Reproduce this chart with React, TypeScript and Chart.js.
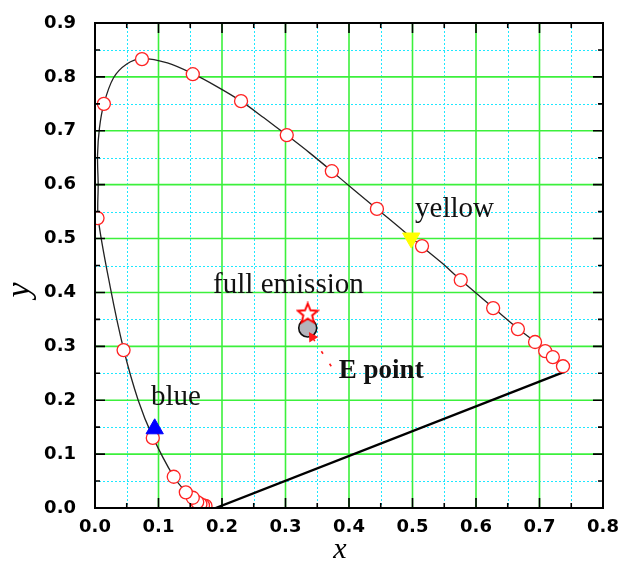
import React, { useEffect, useRef } from "react";
import { Chart, registerables } from "chart.js";

Chart.register(...registerables);

// Spectral locus (thin black curve)
const locusX = [0.174, 0.171, 0.167, 0.162, 0.155, 0.143, 0.124, 0.091, 0.068, 0.045, 0.024, 0.005, 0.005, 0.004, 0.007, 0.014, 0.029, 0.050, 0.074, 0.114, 0.154, 0.192, 0.230, 0.266, 0.302, 0.338, 0.373, 0.408, 0.444, 0.479, 0.514, 0.546, 0.576, 0.627, 0.666, 0.693, 0.709, 0.721, 0.729, 0.737];
const locusY = [0.005, 0.005, 0.007, 0.011, 0.018, 0.030, 0.058, 0.132, 0.200, 0.295, 0.410, 0.538, 0.600, 0.655, 0.705, 0.750, 0.798, 0.824, 0.834, 0.826, 0.806, 0.782, 0.755, 0.724, 0.692, 0.659, 0.625, 0.590, 0.555, 0.521, 0.486, 0.455, 0.423, 0.372, 0.333, 0.308, 0.291, 0.280, 0.272, 0.264];

// Purple boundary line
const purpleX = [0.19, 0.74];
const purpleY = [0.0, 0.253];

// Red open circles (wavelength markers)
const circleX = [0.174, 0.170, 0.166, 0.161, 0.154, 0.143, 0.124, 0.091, 0.045, 0.004, 0.014, 0.074, 0.154, 0.230, 0.302, 0.373, 0.444, 0.515, 0.576, 0.627, 0.666, 0.693, 0.709, 0.721, 0.737];
const circleY = [0.004, 0.005, 0.007, 0.011, 0.019, 0.029, 0.058, 0.130, 0.293, 0.538, 0.750, 0.833, 0.805, 0.755, 0.692, 0.625, 0.555, 0.486, 0.423, 0.371, 0.332, 0.308, 0.291, 0.280, 0.263];

// Special points
const yellowPt = { x: 0.498, y: 0.501 };
const bluePt = { x: 0.094, y: 0.147 };
const fullEmissionPt = { x: 0.335, y: 0.361 };
const ePt = { x: 0.335, y: 0.334 };
const arrowX = [0.372, 0.342];
const arrowY = [0.263, 0.317];

// Ticks
const xTicks = [0, 0.1, 0.2, 0.3, 0.4, 0.5, 0.6, 0.7, 0.8];
const yTicks = [0, 0.1, 0.2, 0.3, 0.4, 0.5, 0.6, 0.7, 0.8, 0.9];
const xMinor = [0.05, 0.15, 0.25, 0.35, 0.45, 0.55, 0.65, 0.75];
const yMinor = [0.05, 0.15, 0.25, 0.35, 0.45, 0.55, 0.65, 0.75, 0.85];

// Text annotations (anchor = left/baseline, in data units)
const noteTexts = ["yellow", "full emission", "blue", "E point"];
const noteX = [0.504, 0.186, 0.088, 0.384];
const noteY = [0.540, 0.399, 0.191, 0.241];
const noteBold = [false, false, false, true];

function makeStar(): HTMLCanvasElement {
  const c = document.createElement("canvas");
  c.width = 24;
  c.height = 24;
  const g = c.getContext("2d")!;
  const cx = 12, cy = 12.5, R = 10.5, r = 4.6;
  g.beginPath();
  for (let i = 0; i < 10; i++) {
    const ang = -Math.PI / 2 + (i * Math.PI) / 5;
    const rad = i % 2 === 0 ? R : r;
    const px = cx + rad * Math.cos(ang);
    const py = cy + rad * Math.sin(ang);
    if (i === 0) g.moveTo(px, py);
    else g.lineTo(px, py);
  }
  g.closePath();
  g.fillStyle = "#ffffff";
  g.fill();
  g.strokeStyle = "#ff0000";
  g.lineWidth = 1.9;
  g.stroke();
  return c;
}

const deco = {
  id: "deco",
  beforeDatasetsDraw(chart: any) {
    const { ctx, chartArea: a, scales } = chart;
    const sx = scales.x, sy = scales.y;
    ctx.save();
    ctx.lineWidth = 1;
    ctx.strokeStyle = "#1ee8ff";
    ctx.setLineDash([2, 2]);
    for (const v of xMinor) {
      const p = Math.round(sx.getPixelForValue(v)) + 0.5;
      ctx.beginPath(); ctx.moveTo(p, a.top); ctx.lineTo(p, a.bottom); ctx.stroke();
    }
    for (const v of yMinor) {
      const p = Math.round(sy.getPixelForValue(v)) + 0.5;
      ctx.beginPath(); ctx.moveTo(a.left, p); ctx.lineTo(a.right, p); ctx.stroke();
    }
    ctx.setLineDash([]);
    ctx.strokeStyle = "#3cf03c";
    ctx.lineWidth = 1.6;
    for (const v of xTicks) {
      const p = sx.getPixelForValue(v);
      ctx.beginPath(); ctx.moveTo(p, a.top); ctx.lineTo(p, a.bottom); ctx.stroke();
    }
    for (const v of yTicks) {
      const p = sy.getPixelForValue(v);
      ctx.beginPath(); ctx.moveTo(a.left, p); ctx.lineTo(a.right, p); ctx.stroke();
    }
    ctx.restore();
  },
  afterDatasetsDraw(chart: any) {
    const { ctx, chartArea: a, scales } = chart;
    const sx = scales.x, sy = scales.y;
    ctx.save();
    // frame
    ctx.strokeStyle = "#000";
    ctx.lineWidth = 2;
    ctx.strokeRect(a.left, a.top, a.right - a.left, a.bottom - a.top);
    // ticks
    ctx.lineWidth = 1.6;
    const tick = (v: number, len: number) => {
      const px = sx.getPixelForValue(v);
      ctx.beginPath();
      ctx.moveTo(px, a.bottom); ctx.lineTo(px, a.bottom - len);
      ctx.moveTo(px, a.top); ctx.lineTo(px, a.top + len);
      ctx.stroke();
    };
    const tickY = (v: number, len: number) => {
      const py = sy.getPixelForValue(v);
      ctx.beginPath();
      ctx.moveTo(a.left, py); ctx.lineTo(a.left + len, py);
      ctx.moveTo(a.right, py); ctx.lineTo(a.right - len, py);
      ctx.stroke();
    };
    xTicks.forEach((v) => tick(v, 10));
    xMinor.forEach((v) => tick(v, 5));
    yTicks.forEach((v) => tickY(v, 10));
    yMinor.forEach((v) => tickY(v, 5));

    // annotations
    ctx.fillStyle = "#111";
    ctx.textBaseline = "alphabetic";
    ctx.textAlign = "left";
    noteTexts.forEach((t, i) => {
      ctx.font = noteBold[i] ? 'bold 27px "Liberation Serif"' : '29px "Liberation Serif"';
      ctx.fillText(t, sx.getPixelForValue(noteX[i]), sy.getPixelForValue(noteY[i]));
    });

    // axis titles
    ctx.fillStyle = "#000";
    ctx.font = 'italic 30px "Liberation Serif"';
    ctx.textAlign = "center";
    ctx.fillText("x", 340, 558);
    ctx.save();
    ctx.translate(29, 290);
    ctx.rotate(-Math.PI / 2);
    ctx.font = 'italic 34px "Liberation Serif"';
    ctx.fillText("y", 0, 0);
    ctx.restore();
    ctx.restore();
  },
};

export default function App() {
  const ref = useRef<HTMLCanvasElement>(null);
  useEffect(() => {
    const star = makeStar();
    const tickFont = { family: '"DejaVu Sans"', weight: "bold" as const, size: 18 };
    const chart = new Chart(ref.current!, {
      type: "scatter",
      data: {
        datasets: [
          {
            label: "locus",
            data: locusX.map((x, i) => ({ x, y: locusY[i] })),
            showLine: true,
            borderColor: "#222",
            borderWidth: 1.3,
            pointRadius: 0,
            tension: 0.3,
            order: 10,
          },
          {
            label: "purple",
            data: purpleX.map((x, i) => ({ x, y: purpleY[i] })),
            showLine: true,
            borderColor: "#000",
            borderWidth: 2.4,
            pointRadius: 0,
            order: 9,
          },
          {
            label: "circles",
            data: circleX.map((x, i) => ({ x, y: circleY[i] })),
            pointStyle: "circle",
            pointRadius: 6.5,
            borderColor: "#ff2222",
            backgroundColor: "#ffffff",
            borderWidth: 1.3,
            order: 8,
          },
          {
            label: "yellow",
            data: [yellowPt],
            pointStyle: "triangle",
            rotation: 180,
            pointRadius: 10,
            backgroundColor: "#ffff00",
            borderColor: "#ffff00",
            borderWidth: 1,
            order: 8.5,
          },
          {
            label: "blue",
            data: [bluePt],
            pointStyle: "triangle",
            pointRadius: 10,
            backgroundColor: "#0000ff",
            borderColor: "#0000ff",
            borderWidth: 1,
            order: 7,
          },
          {
            label: "E",
            data: [ePt],
            pointStyle: "circle",
            pointRadius: 9,
            backgroundColor: "#b4b4bc",
            borderColor: "#111",
            borderWidth: 1.6,
            order: 6,
          },
          {
            label: "full",
            data: [fullEmissionPt],
            pointStyle: star as any,
            order: 5,
          },
          {
            label: "arrow",
            data: arrowX.map((x, i) => ({ x, y: arrowY[i] })),
            showLine: true,
            borderColor: "#ff1a1a",
            borderWidth: 1.6,
            borderDash: [3, 12],
            pointRadius: [0, 4.5],
            pointStyle: "triangle",
            rotation: -32,
            backgroundColor: "#ff1a1a",
            pointBorderColor: "#ff1a1a",
            order: 4,
          },
        ] as any,
      },
      options: {
        animation: false,
        responsive: false,
        devicePixelRatio: 1,
        events: [],
        layout: { padding: { top: 23, right: 19, left: 0, bottom: 0 }, autoPadding: false },
        plugins: { legend: { display: false }, tooltip: { enabled: false } },
        scales: {
          x: {
            type: "linear",
            min: 0,
            max: 0.8,
            ticks: {
              stepSize: 0.1,
              callback: (v: any) => Number(v).toFixed(1),
              font: tickFont,
              color: "#000",
              padding: 1,
              maxRotation: 0,
              autoSkip: false,
            },
            grid: { display: false },
            border: { display: false },
            afterFit: (s: any) => {
              s.height = 58;
            },
          },
          y: {
            type: "linear",
            min: 0,
            max: 0.9,
            ticks: {
              stepSize: 0.1,
              callback: (v: any) => Number(v).toFixed(1),
              font: tickFont,
              color: "#000",
              padding: 11,
              autoSkip: false,
            },
            grid: { display: false },
            border: { display: false },
            afterFit: (s: any) => {
              s.width = 95;
            },
          },
        },
      } as any,
      plugins: [deco],
    });
    return () => chart.destroy();
  }, []);
  return (
    <div style={{ position: "absolute", left: 0, top: 0, width: 622, height: 566, background: "#fff" }}>
      <canvas ref={ref} width={622} height={566} style={{ display: "block" }} />
    </div>
  );
}
